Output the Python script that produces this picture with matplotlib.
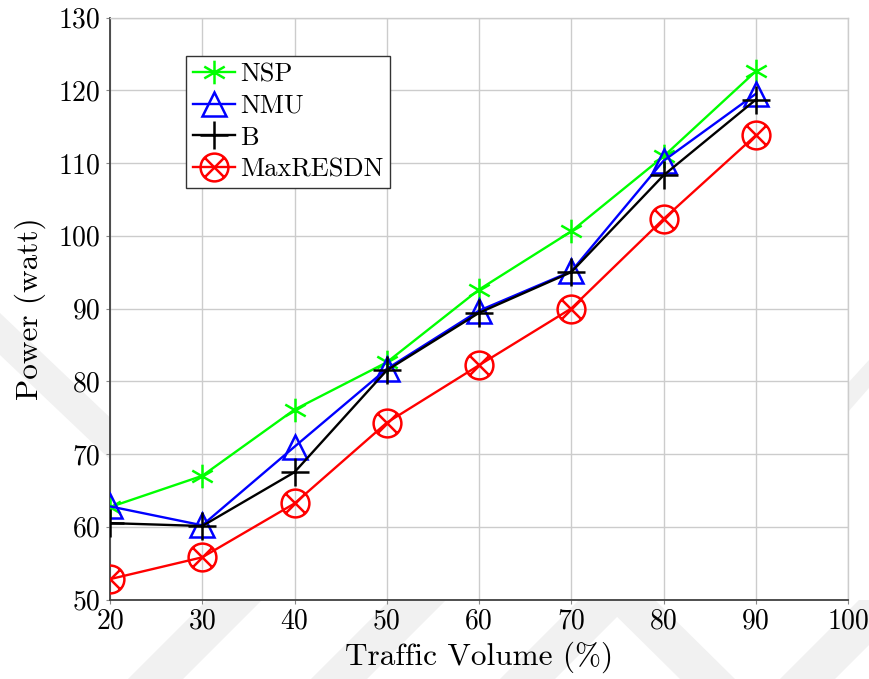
import matplotlib
matplotlib.use("Agg")
import matplotlib.pyplot as plt
from matplotlib.path import Path
from matplotlib.patches import Polygon
import numpy as np

plt.rcParams['font.family'] = 'cmr10'
plt.rcParams['mathtext.fontset'] = 'cm'
plt.rcParams['axes.unicode_minus'] = False

# traffic volume (%) and power draw (watt) per scheme
traffic = [20, 30, 40, 50, 60, 70, 80, 90]
nsp = [62.7, 67.0, 76.1, 82.6, 92.6, 100.6, 110.9, 122.6]
nmu = [62.8, 60.2, 71.0, 81.7, 89.7, 95.1, 110.3, 119.5]
b = [60.5, 60.1, 67.5, 81.5, 89.4, 95.0, 108.3, 118.7]
maxresdn = [52.8, 55.8, 63.2, 74.3, 82.2, 90.0, 102.3, 113.8]

# pgfplots-like marks
c30, s30 = np.cos(np.pi / 6), np.sin(np.pi / 6)
asterisk = Path([(0, -1), (0, 1), (-c30, -s30), (c30, s30), (-c30, s30), (c30, -s30)],
                [Path.MOVETO, Path.LINETO] * 3)
d = np.sqrt(0.5)
otimes = Path.make_compound_path(
    Path.unit_circle(),
    Path([(-d, -d), (d, d)], [Path.MOVETO, Path.LINETO]),
    Path([(-d, d), (d, -d)], [Path.MOVETO, Path.LINETO]),
)

W, H = 869, 679
fig = plt.figure(figsize=(W / 100, H / 100), dpi=100)

# faint diagonal watermark bands behind the axes (pixel coords, y down)
bands = [
    [(0, 313), (0, 355), (200, 545), (200, 503)],
    [(128, 679), (183, 679), (262, 600), (207, 600)],
    [(311, 679), (367, 679), (446, 600), (390, 600)],
    [(500, 679), (555, 679), (634, 600), (579, 600)],
    [(600, 600), (655, 600), (735, 679), (680, 679)],
    [(780, 679), (835, 679), (914, 600), (859, 600)],
    [(848, 383), (848, 412), (869, 388), (869, 360)],
]
for poly in bands:
    pts = [(x / W, 1 - y / H) for x, y in poly]
    fig.patches.append(Polygon(pts, closed=True, transform=fig.transFigure,
                               facecolor='#f1f1f1', edgecolor='none', zorder=-5))

ax = fig.add_axes([110 / W, 1 - 599.5 / H, 738 / W, 582 / H])
ax.set_zorder(2)
ax.set_facecolor('white')

lw = 1.7
mew = 1.8
ax.plot(traffic, nsp, color='#00ff00', lw=lw, marker=asterisk, ms=17, mew=mew,
        mfc='none', label='NSP', zorder=3)
ax.plot(traffic, nmu, color='#0000ff', lw=lw, marker='^', ms=17, mew=mew,
        mfc='none', label='NMU', zorder=3)
ax.plot(traffic, b, color='black', lw=lw, marker='+', ms=20, mew=mew,
        label='B', zorder=3)
ax.plot(traffic, maxresdn, color='#ff0000', lw=lw, marker=otimes, ms=20, mew=mew,
        mfc='none', label='MaxRESDN', zorder=3)

ax.set_xlim(20, 100)
ax.set_ylim(50, 130)
ax.set_xticks(range(20, 101, 10))
ax.set_yticks(range(50, 131, 10))
ax.grid(True, color='#cccccc', lw=1.0)
ax.set_axisbelow(True)

for side in ['left', 'bottom']:
    ax.spines[side].set_color('#404040')
    ax.spines[side].set_linewidth(1.3)
for side in ['top', 'right']:
    ax.spines[side].set_color('#cccccc')
    ax.spines[side].set_linewidth(1.0)

ax.tick_params(axis='both', labelsize=20, color='#888888', length=3, direction='out')
ax.tick_params(axis='y', pad=4)
ax.tick_params(axis='x', pad=3)

ax.set_xlabel('Traffic Volume (%)', fontsize=22.5, labelpad=5)
ax.set_ylabel('Power (watt)', fontsize=22.5, labelpad=9)

leg = ax.legend(loc='upper left', bbox_to_anchor=(0.103, 0.934), borderaxespad=0,
                fontsize=19, fancybox=False, framealpha=1, edgecolor='#333333',
                handlelength=1.6, handletextpad=0.2, labelspacing=0.3,
                borderpad=0.25)
leg.get_frame().set_linewidth(1.0)

fig.savefig('out.png', dpi=100)
